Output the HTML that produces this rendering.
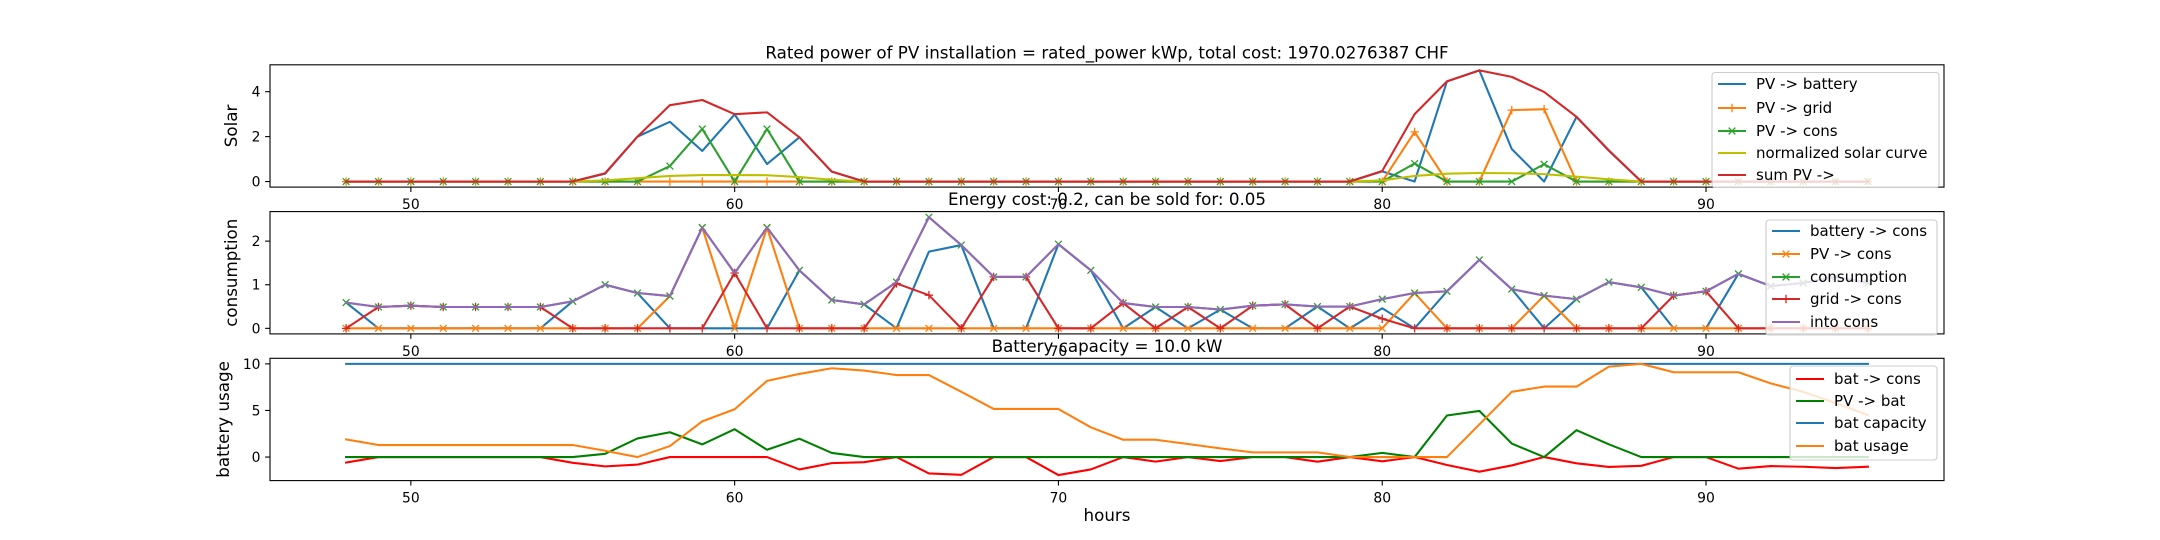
<!DOCTYPE html>
<html><head><meta charset="utf-8"><style>
body{margin:0;background:#fff;}
svg{display:block;font-family:"DejaVu Sans","Liberation Sans",sans-serif;}
</style></head><body>
<svg id="fig" width="2160" height="540" viewBox="0 0 2160 540" xmlns="http://www.w3.org/2000/svg">
<rect width="2160" height="540" fill="#fff"/>
</svg>
<script>
const hours = [];
for (let h = 48; h <= 95; h++) hours.push(h);
// Panel 1 data
const pvBattery = [0,0,0,0,0,0,0,0,0.35,2.0,2.66,1.36,2.99,0.78,1.97,0.44,0,0,0,0,0,0,0,0,0,0,0,0,0,0,0,0,0.45,0,4.46,4.95,1.45,0,2.88,1.37,0,0,0,0,0,0,0,0];
const pvGrid = [0,0,0,0,0,0,0,0,0,0,0,0,0,0,0,0,0,0,0,0,0,0,0,0,0,0,0,0,0,0,0,0,0,2.21,0,0,3.18,3.22,0,0,0,0,0,0,0,0,0,0];
const pvCons = [0,0,0,0,0,0,0,0,0,0,0.69,2.34,0,2.34,0,0,0,0,0,0,0,0,0,0,0,0,0,0,0,0,0,0,0,0.8,0,0,0,0.77,0,0,0,0,0,0,0,0,0,0];
const solarCurve = [0,0,0,0,0,0,0,0,0.05,0.15,0.25,0.29,0.29,0.28,0.2,0.08,0,0,0,0,0,0,0,0,0,0,0,0,0,0,0,0,0.05,0.25,0.35,0.38,0.37,0.33,0.22,0.1,0,0,0,0,0,0,0,0];
const sumPV = [0,0,0,0,0,0,0,0,0.37,2.0,3.4,3.63,3.0,3.08,1.97,0.44,0,0,0,0,0,0,0,0,0,0,0,0,0,0,0,0,0.47,3.0,4.46,4.95,4.66,3.99,2.88,1.39,0,0,0,0,0,0,0,0];
// Panel 2 data
const batteryToCons = [0.59,0,0,0,0,0,0,0.62,1.0,0.81,0,0,0,0,1.33,0.65,0.55,0,1.76,1.91,0,0,1.93,1.33,0,0.49,0,0.43,0,0,0.5,0,0.46,0,0.85,1.57,0.9,0,0.67,1.06,0.94,0,0,1.25,0.97,1.04,1.18,1.04];
const pvToCons = [0,0,0,0,0,0,0,0,0,0,0.74,2.31,0,2.31,0,0,0,0,0,0,0,0,0,0,0,0,0,0,0,0,0,0,0,0.81,0,0,0,0.75,0,0,0,0,0,0,0,0,0,0];
const consumption = [0.59,0.49,0.52,0.49,0.49,0.49,0.49,0.62,1.0,0.81,0.74,2.31,1.27,2.31,1.33,0.65,0.55,1.06,2.55,1.91,1.18,1.18,1.93,1.33,0.58,0.49,0.49,0.43,0.52,0.55,0.5,0.5,0.67,0.81,0.85,1.57,0.9,0.75,0.67,1.06,0.94,0.75,0.85,1.25,0.97,1.04,1.18,1.04];
const gridToCons = [0,0.49,0.52,0.49,0.49,0.49,0.49,0,0,0,0,0,1.27,0,0,0,0,1.03,0.76,0,1.18,1.18,0,0,0.58,0,0.49,0,0.52,0.55,0,0.5,0.22,0,0,0,0,0,0,0,0,0.75,0.85,0,0,0,0,0];
const intoCons = [0.59,0.49,0.52,0.49,0.49,0.49,0.49,0.62,1.0,0.81,0.74,2.31,1.27,2.31,1.33,0.65,0.55,1.06,2.55,1.91,1.18,1.18,1.93,1.33,0.58,0.49,0.49,0.43,0.52,0.55,0.5,0.5,0.67,0.81,0.85,1.57,0.9,0.75,0.67,1.06,0.94,0.75,0.85,1.25,0.97,1.04,1.18,1.04];
// Panel 3 data
const batToCons = [-0.59,0,0,0,0,0,0,-0.62,-1.0,-0.81,0,0,0,0,-1.33,-0.65,-0.55,0,-1.76,-1.91,0,0,-1.93,-1.33,0,-0.49,0,-0.43,0,0,-0.5,0,-0.46,0,-0.85,-1.57,-0.9,0,-0.67,-1.06,-0.94,0,0,-1.25,-0.97,-1.04,-1.18,-1.04];
const pvToBat = [0,0,0,0,0,0,0,0,0.35,2.0,2.66,1.36,2.99,0.78,1.97,0.44,0,0,0,0,0,0,0,0,0,0,0,0,0,0,0,0,0.45,0,4.46,4.95,1.45,0,2.88,1.37,0,0,0,0,0,0,0,0];
const batCapacity = [10,10,10,10,10,10,10,10,10,10,10,10,10,10,10,10,10,10,10,10,10,10,10,10,10,10,10,10,10,10,10,10,10,10,10,10,10,10,10,10,10,10,10,10,10,10,10,10];
const batUsage = [1.9,1.29,1.29,1.29,1.29,1.29,1.29,1.29,0.68,0,1.18,3.83,5.13,8.17,8.92,9.53,9.28,8.8,8.8,7.0,5.16,5.16,5.16,3.19,1.86,1.86,1.4,0.93,0.5,0.5,0.5,0,0,0,0,3.5,7.0,7.56,7.56,9.7,10.0,9.1,9.1,9.1,7.9,7.0,5.8,4.5];
const xTicks = [50,60,70,80,90];
const yTicks1 = [0,2,4];
const yTicks2 = [0,1,2];
const yTicks3 = [0,5,10];

const NS = 'http://www.w3.org/2000/svg';
const svg = document.getElementById('fig');
const AX_L = 270, AX_R = 1944, XMIN = 45.65, XMAX = 97.35;
function xs(h){ return AX_L + (h - XMIN) / (XMAX - XMIN) * (AX_R - AX_L); }
function mk(tag, attrs, parent){ const e = document.createElementNS(NS, tag); for (const k in attrs) e.setAttribute(k, attrs[k]); (parent||svg).appendChild(e); return e; }
function yScale(top, bottom, lo, hi){ return v => bottom - (v - lo) / (hi - lo) * (bottom - top); }

const panels = [
  {name:'solar', top:64.8, bottom:187.1, lo:-0.2475, hi:5.1975, ticks:yTicks1, ylabel:'Solar', title:'Rated power of PV installation = rated_power kWp, total cost: 1970.0276387 CHF'},
  {name:'consumption', top:211.6, bottom:333.9, lo:-0.1275, hi:2.6775, ticks:yTicks2, ylabel:'consumption', title:'Energy cost: 0.2, can be sold for: 0.05'},
  {name:'battery', top:358.3, bottom:480.6, lo:-2.5265, hi:10.5965, ticks:yTicks3, ylabel:'battery usage', title:'Battery capacity = 10.0 kW'}
];

function marker(g, type, x, y, color){
  const s = 4.2;
  if (type === 'x'){
    const m = mk('path', {d:`M${x-s*0.8} ${y-s*0.8}L${x+s*0.8} ${y+s*0.8}M${x-s*0.8} ${y+s*0.8}L${x+s*0.8} ${y-s*0.8}`, stroke:color, 'stroke-width':1.3, fill:'none'}, g);
    
    
  } else if (type === '+'){
    const m = mk('path', {d:`M${x-s} ${y}L${x+s} ${y}M${x} ${y-s}L${x} ${y+s}`, stroke:color, 'stroke-width':1.3, fill:'none'}, g);
    
    
  }
}

function series(p, vals, color, mtype, name){
  const ys = yScale(p.top, p.bottom, p.lo, p.hi);
  const g = mk('g', {});
  
  
  const d = vals.map((v,i) => (i ? 'L' : 'M') + xs(hours[i]).toFixed(2) + ' ' + ys(v).toFixed(2)).join('');
  const path = mk('path', {d, stroke:color, 'stroke-width':2.08, fill:'none', 'stroke-linejoin':'round', 'stroke-linecap':'square'}, g);
  
  
  if (mtype) vals.forEach((v,i) => marker(g, mtype, xs(hours[i]), ys(v), color));
}

function axes(p){
  const g = mk('g', {});
  
  
  const ys = yScale(p.top, p.bottom, p.lo, p.hi);
  xTicks.forEach(t => {
    const x = xs(t);
    mk('line', {x1:x, x2:x, y1:p.bottom, y2:p.bottom+4.9, stroke:'#000', 'stroke-width':1.1}, g);
    const tx = mk('text', {x:x, y:p.bottom+22, 'font-size':13.9, 'text-anchor':'middle', fill:'#000'}, g);
    tx.textContent = t;
    
    
  });
  p.ticks.forEach(t => {
    const y = ys(t);
    mk('line', {x1:AX_L-4.9, x2:AX_L, y1:y, y2:y, stroke:'#000', 'stroke-width':1.1}, g);
    const tx = mk('text', {x:AX_L-9.5, y:y+5, 'font-size':13.9, 'text-anchor':'end', fill:'#000'}, g);
    tx.textContent = t;
    
    
  });
  const yl = mk('text', {x:0, y:0, 'font-size':16.7, 'text-anchor':'middle', fill:'#000', transform:`translate(${p.name==='battery'?229:237},${(p.top+p.bottom)/2}) rotate(-90)`}, g);
  yl.textContent = p.ylabel;
  
  
}

function frame(p){
  const r = mk('rect', {x:AX_L, y:p.top, width:AX_R-AX_L, height:p.bottom-p.top, fill:'none', stroke:'#000', 'stroke-width':1.1});
  
  
}

function title(p){
  const t = mk('text', {x:(AX_L+AX_R)/2, y:p.top-6.5, 'font-size':16.7, 'text-anchor':'middle', fill:'#000'});
  t.textContent = p.title;
  
  
}

function legend(name, x, y, w, h, entries, rowY){
  const g = mk('g', {});
  
  
  mk('rect', {x, y, width:w, height:h, rx:3, fill:'#fff', 'fill-opacity':0.8, stroke:'#ccc', 'stroke-width':1.1}, g);
  entries.forEach((e,i) => {
    const ry = rowY[i];
    const eg = mk('g', {}, g);
    
    
    mk('line', {x1:x+6, x2:x+34, y1:ry, y2:ry, stroke:e[1], 'stroke-width':2.08}, eg);
    if (e[2]) marker(eg, e[2], x+20, ry, e[1]);
    const t = mk('text', {x:x+44, y:ry+5, 'font-size':15, fill:'#000'}, eg);
    t.textContent = e[0];
  });
}

const C = {blue:'#1f77b4', orange:'#ff7f0e', green:'#2ca02c', red:'#d62728', purple:'#9467bd', y:'#bfbf00'};

// Panel 1
axes(panels[0]);
series(panels[0], pvBattery, C.blue, null, 'pv-to-battery');
series(panels[0], pvGrid, C.orange, '+', 'pv-to-grid');
series(panels[0], pvCons, C.green, 'x', 'pv-to-cons');
series(panels[0], solarCurve, C.y, null, 'normalized-solar-curve');
series(panels[0], sumPV, C.red, null, 'sum-pv');
frame(panels[0]);
title(panels[0]);
// Panel 2
axes(panels[1]);
series(panels[1], batteryToCons, C.blue, null, 'battery-to-cons');
series(panels[1], pvToCons, C.orange, 'x', 'pv-to-cons-2');
series(panels[1], consumption, C.green, 'x', 'consumption');
series(panels[1], gridToCons, C.red, '+', 'grid-to-cons');
series(panels[1], intoCons, C.purple, null, 'into-cons');
frame(panels[1]);
// Panel 3
axes(panels[2]);
series(panels[2], batToCons, '#ff0000', null, 'bat-to-cons');
series(panels[2], pvToBat, '#008000', null, 'pv-to-bat');
series(panels[2], batCapacity, C.blue, null, 'bat-capacity');
series(panels[2], batUsage, C.orange, null, 'bat-usage');
frame(panels[2]);

legend('legend-solar', 1712, 72.5, 227, 115, [['PV -> battery',C.blue],['PV -> grid',C.orange,'+'],['PV -> cons',C.green,'x'],['normalized solar curve',C.y],['sum PV ->',C.red]], [84,108,131,153,175]);
title(panels[1]);
legend('legend-consumption', 1766, 220, 171, 115, [['battery -> cons',C.blue],['PV -> cons',C.orange,'x'],['consumption',C.green,'x'],['grid -> cons',C.red,'+'],['into cons',C.purple]], [231,254,277,299,322]);
title(panels[2]);
legend('legend-battery', 1790, 366, 147, 94, [['bat -> cons','#ff0000'],['PV -> bat','#008000'],['bat capacity',C.blue],['bat usage',C.orange]], [379,401,423,446]);

const xl = mk('text', {x:(AX_L+AX_R)/2, y:521, 'font-size':16.7, 'text-anchor':'middle', fill:'#000'});
xl.textContent = 'hours';


</script>
</body></html>
